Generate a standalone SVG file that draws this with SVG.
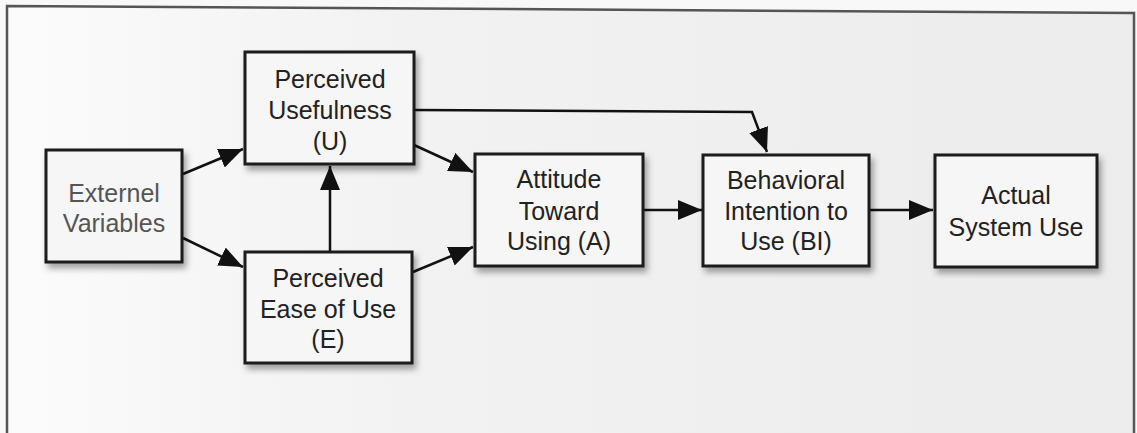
<svg xmlns="http://www.w3.org/2000/svg" width="1137" height="433" viewBox="0 0 1137 433">
  <defs>
    <linearGradient id="bg" x1="0" y1="0" x2="1" y2="0">
      <stop offset="0" stop-color="#fbfbfb"/>
      <stop offset="0.35" stop-color="#f2f2f2"/>
      <stop offset="1" stop-color="#ececec"/>
    </linearGradient>
    <filter id="shadow" x="-10%" y="-10%" width="130%" height="140%">
      <feDropShadow dx="3" dy="5" stdDeviation="3" flood-color="#000" flood-opacity="0.35"/>
    </filter>
    <marker id="arrow" markerUnits="userSpaceOnUse" markerWidth="26" markerHeight="22" refX="24" refY="10" orient="auto">
      <path d="M0,0 L24,10 L0,20 z" fill="#111"/>
    </marker>
    <style>
      .box { fill: #f6f6f6; stroke: #1a1a1a; stroke-width: 3; filter: url(#shadow); }
      .lbl { font-family: "Liberation Sans", Arial, sans-serif; font-size: 25px; fill: #222; text-anchor: middle; }
      .lbl.light { fill: #555; }
      .conn { fill: none; stroke: #111; stroke-width: 2.5; marker-end: url(#arrow); }
      .frame { fill: none; stroke: #555; stroke-width: 2.5; }
    </style>
  </defs>

  <rect x="0" y="0" width="1137" height="433" fill="#f8f8f8"/>
  <path d="M7,433 L7,6 L1134,13 L1134,433 Z" fill="url(#bg)" stroke="none"/>
  <path class="frame" d="M7,433 L7,6 L1134,13 L1134,433"/>

  <g id="connectors">
    <path class="conn" d="M183,174 L243,149"/>
    <path class="conn" d="M183,238 L243,267"/>
    <path class="conn" d="M330,251 L330,166"/>
    <path class="conn" d="M414,145 L473,172"/>
    <path class="conn" d="M413,272 L473,247"/>
    <path class="conn" d="M414,110 L752,112 L767,152"/>
    <path class="conn" d="M643,210 L702,210"/>
    <path class="conn" d="M869,210 L933,210"/>
  </g>

  <g id="external">
    <rect class="box" x="46" y="150" width="136" height="112"/>
    <text class="lbl light" x="114" y="202">Externel</text>
    <text class="lbl light" x="114" y="232">Variables</text>
  </g>

  <g id="pu">
    <rect class="box" x="245" y="52" width="169" height="112"/>
    <text class="lbl" x="330" y="88">Perceived</text>
    <text class="lbl" x="330" y="119">Usefulness</text>
    <text class="lbl" x="330" y="150">(U)</text>
  </g>

  <g id="peou">
    <rect class="box" x="245" y="252" width="167" height="111"/>
    <text class="lbl" x="328" y="287">Perceived</text>
    <text class="lbl" x="328" y="318">Ease of Use</text>
    <text class="lbl" x="328" y="348">(E)</text>
  </g>

  <g id="attitude">
    <rect class="box" x="475" y="154" width="168" height="112"/>
    <text class="lbl" x="559" y="188">Attitude</text>
    <text class="lbl" x="559" y="220">Toward</text>
    <text class="lbl" x="559" y="250">Using (A)</text>
  </g>

  <g id="bi">
    <rect class="box" x="703" y="155" width="166" height="111"/>
    <text class="lbl" x="786" y="189">Behavioral</text>
    <text class="lbl" x="786" y="220">Intention to</text>
    <text class="lbl" x="786" y="250">Use (BI)</text>
  </g>

  <g id="asu">
    <rect class="box" x="935" y="155" width="162" height="112"/>
    <text class="lbl" x="1016" y="204">Actual</text>
    <text class="lbl" x="1016" y="236">System Use</text>
  </g>
</svg>
